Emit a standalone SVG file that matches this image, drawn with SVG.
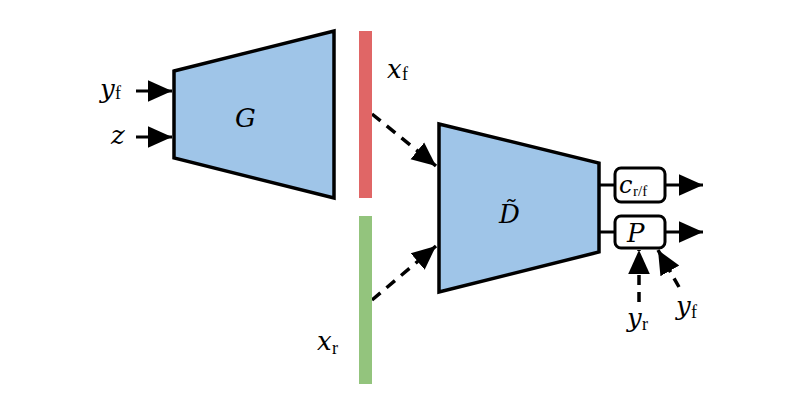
<svg xmlns="http://www.w3.org/2000/svg" width="799" height="418" viewBox="0 0 799 418">
<style>
.blk{fill:#9fc5e8;stroke:#000;stroke-width:3.5;stroke-linejoin:miter}
.box{fill:#fff;stroke:#000;stroke-width:3}
.ln{stroke:#000;stroke-width:3;fill:none}
.dash{stroke:#000;stroke-width:3.5;fill:none;stroke-dasharray:11,8}
.m{font-family:"DejaVu Serif","Liberation Serif",serif;font-style:italic;font-size:26px;fill:#000}
.s{font-family:"Liberation Serif",serif;font-size:18px;fill:#000}
</style>
<defs>
<marker id="ah2" viewBox="0 0 10 10" refX="10" refY="5" markerWidth="24" markerHeight="24" orient="auto" markerUnits="userSpaceOnUse"><path d="M0,0.5 L10,5 L0,9.5 z" fill="#000"/></marker>
</defs>
<g id="connectors">
<line class="ln" x1="136" y1="91" x2="172" y2="91" marker-end="url(#ah2)"/>
<line class="ln" x1="136" y1="137" x2="172" y2="137" marker-end="url(#ah2)"/>
<line class="dash" x1="372" y1="114" x2="436" y2="166" marker-end="url(#ah2)"/>
<line class="dash" x1="372" y1="300" x2="436" y2="246" marker-end="url(#ah2)"/>
<line class="ln" x1="599" y1="185" x2="615" y2="185"/>
<line class="ln" x1="599" y1="232" x2="615" y2="232"/>
<line class="ln" x1="665" y1="185" x2="703" y2="185" marker-end="url(#ah2)"/>
<line class="ln" x1="665" y1="232" x2="703" y2="232" marker-end="url(#ah2)"/>
<line class="dash" x1="639" y1="302" x2="639" y2="250" marker-end="url(#ah2)" style="stroke-dasharray:10,7"/>
<line class="dash" x1="679" y1="287" x2="658" y2="250" marker-end="url(#ah2)" style="stroke-dasharray:10,7"/>
</g>
<g id="in-yf"><text class="m" x="100" y="98">y</text><text class="s" x="115" y="99">f</text></g>
<g id="in-z"><text class="m" x="111" y="144">z</text></g>
<g id="G"><polygon class="blk" points="174,71 334,31 334,198 174,158"/><text class="m" x="235" y="127">G</text></g>
<g id="xf"><rect x="359" y="31" width="13" height="167" fill="#e06666"/><text class="m" x="387" y="78">x</text><text class="s" x="402" y="80">f</text></g>
<g id="xr"><rect x="359" y="216" width="13" height="168" fill="#93c47d"/><text class="m" x="317" y="350">x</text><text class="s" x="332" y="354">r</text></g>
<g id="D"><polygon class="blk" points="439,124 599,163 599,252 439,292"/><text class="m" x="499" y="223">D&#x303;</text></g>
<g id="c"><rect class="box" x="615" y="168" width="50" height="34" rx="6"/><text class="m" x="619" y="193" style="font-size:24px">c</text><text class="s" x="633" y="196" style="font-size:15px">r/f</text></g>
<g id="P"><rect class="box" x="615" y="216" width="50" height="32" rx="6"/><text class="m" x="627" y="242">P</text></g>
<g id="yr"><text class="m" x="627" y="327">y</text><text class="s" x="642" y="330">r</text></g>
<g id="yf2"><text class="m" x="676" y="315">y</text><text class="s" x="691" y="318">f</text></g>
</svg>
